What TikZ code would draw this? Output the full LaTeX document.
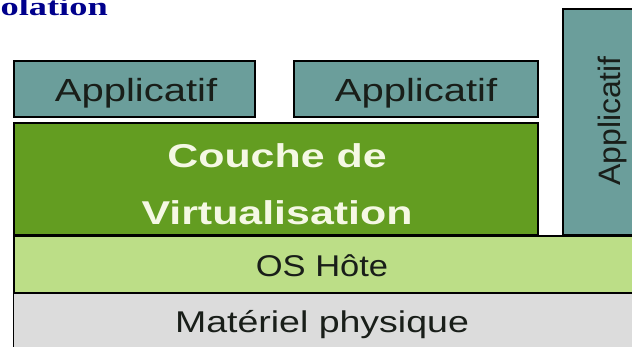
\documentclass[tikz,border=0pt]{standalone}
\usepackage{graphicx}
\usepackage{fontspec}
\setmainfont{Liberation Sans}
\newfontfamily\titlefont{Liberation Serif}

\definecolor{appteal}{RGB}{107,158,155}
\definecolor{virtgreen}{RGB}{99,157,33}
\definecolor{osgreen}{RGB}{188,222,135}
\definecolor{hwgrey}{RGB}{220,220,220}
\definecolor{labeldark}{RGB}{25,30,25}
\definecolor{labelcream}{RGB}{245,248,228}
\definecolor{titleblue}{RGB}{0,0,140}

\tikzset{
  layer/.style={rectangle, draw=black, line width=1.6pt, inner sep=0pt, anchor=north west},
  appbox/.style={layer, fill=appteal},
  virtbox/.style={layer, fill=virtgreen},
  osband/.style={layer, fill=osgreen},
  hwband/.style={layer, fill=hwgrey, line width=1.2pt},
  biglabel/.style={inner sep=0pt, anchor=base, text=labeldark, font=\fontsize{32}{36}\selectfont},
  virtlabel/.style={inner sep=0pt, anchor=base, text=labelcream, align=center,
    font=\fontsize{33}{57}\selectfont\bfseries},
}
\newcommand{\wide}[2][1.25]{\scalebox{#1}[1]{#2}}

\begin{document}
\begin{tikzpicture}[x=1pt,y=-1pt]
  \useasboundingbox (0,0) rectangle (632,347);
  \clip (0,0) rectangle (632,347);

  % stack of layers, bottom to top
  \node[hwband, minimum width=630pt, minimum height=60pt] (hw) at (13,292) {};
  \node[osband, minimum width=630pt, minimum height=57pt] (os) at (13,235) {};
  \node[virtbox, minimum width=524pt, minimum height=112pt] (virt) at (13,122) {};
  \node[appbox, minimum width=241pt, minimum height=56pt] (app1) at (13,60) {};
  \node[appbox, minimum width=244pt, minimum height=56pt] (app2) at (293,60) {};
  \node[appbox, minimum width=90pt, minimum height=226pt, line width=2.2pt] (app3) at (562,8) {};

  % labels
  \node[biglabel] (app1text) at (136,102) {\wide{Applicatif}};
  \node[biglabel] (app2text) at (416,102) {\wide{Applicatif}};
  \node[biglabel, rotate=90, font=\fontsize{31}{36}\selectfont] (app3text) at (620,121) {\wide[1.03]{Applicatif}};
  \node[virtlabel, anchor=north] (virttext) at (277,143)
    {\wide[1.3]{Couche de}\\\wide[1.3]{Virtualisation}};
  \node[biglabel, font=\fontsize{30}{36}\selectfont] (ostext) at (322,277) {\wide[1.15]{OS Hôte}};
  \node[biglabel, font=\fontsize{30}{36}\selectfont] (hwtext) at (322,333) {\wide[1.25]{Matériel physique}};

  % heading, cut at the left edge
  \node[inner sep=0pt, anchor=base east, text=titleblue, font=\titlefont\bfseries\fontsize{26}{30}\selectfont] (title) at (108,16) {\wide[1.4]{Isolation}};
\end{tikzpicture}
\end{document}
